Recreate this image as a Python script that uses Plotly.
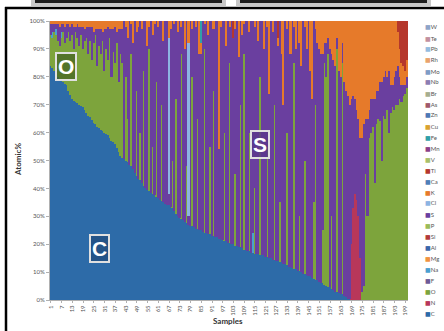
import plotly.graph_objects as go

# ---------------- figure geometry (pixels) ----------------
W_FIG, H_FIG = 444, 331
L, R, T, B = 50, 36, 21, 31
PW = W_FIG - L - R
PH = H_FIG - T - B


def fx(p):
    return (p - L) / PW


def fy(p):
    return (H_FIG - B - p) / PH


# ---------------- data ----------------
samples = list(range(1, 201))
tick_samples = list(range(1, 200, 6))

C = [84, 83, 82, 81, 80, 79, 78.5, 78, 77.5, 77,
     75, 73.5, 72, 71.5, 71, 70.5, 70, 69.5, 69, 68,
     67, 66, 65.5, 64.5, 63.5, 63, 62, 61.5, 61, 60.5,
     60, 59.5, 59, 58, 57, 56.5, 56, 54.5, 53, 51.5,
     51, 50.5, 50, 49.5, 48.5, 48, 47, 45.5, 44.5, 43.5,
     43, 42, 41, 40, 39.5, 39, 38.5, 38, 37.5, 37,
     36.5, 36, 35.5, 35, 34.5, 34, 34, 33.5, 33, 32,
     31, 30, 29.5, 29, 28.5, 28, 27.5, 27, 26.5, 26.5,
     26, 25.5, 25.5, 25, 25, 24.5, 24, 24, 23.5, 23.5,
     23, 23, 22.5, 22.5, 22, 22, 21.5, 21, 21, 20.5,
     20.5, 20, 20, 19.5, 19.5, 19, 19, 18.5, 18, 18,
     17.5, 17.5, 17, 17, 16.5, 16.5, 16.5, 16, 16, 16,
     15.5, 15.5, 15, 15, 14.5, 14.5, 14, 14, 13.5, 13.5,
     13, 13, 12.5, 12, 12, 11.5, 11, 11, 10.5, 10.5,
     10, 9.5, 9.5, 9, 8.5, 8.5, 8, 7.5, 7, 7,
     6.5, 6, 6, 5.5, 5, 4.5, 4.5, 4, 3.5, 3,
     3, 2.5, 2, 2, 1.5, 1, 0.5, 0.3, 0, 0,
     0, 0, 0, 0, 0, 0, 0, 0, 0, 0,
     0, 0, 0, 0, 0, 0, 0, 0, 0, 0,
     0, 0, 0, 0, 0, 0, 0, 0, 0, 0]

O = [11, 11, 14, 14, 13, 12, 15.5, 18, 14.5, 17,
     21, 19.5, 23, 18.5, 25, 23.5, 21, 25.5, 21, 25,
     27, 22, 27.5, 21.5, 28.5, 32, 22, 29.5, 27, 32.5,
     22, 30.5, 27, 36, 23, 32.5, 29, 37.5, 25, 36.5,
     34, 0, 30, 15.5, 0, 40, 0, 0, 30.5, 0,
     17, 0, 41, 0, 0, 51, 0, 17, 0, 41,
     0, 0, 34.5, 0, 0, 0, 0, 0, 17, 0,
     41, 0, 0, 59, 0, 0, 20.5, 0, 0, 53.5,
     0, 0, 39.5, 0, 0, 0, 66, 0, 0, 31.5,
     0, 52, 0, 0, 0, 0, 0, 39, 0, 0,
     64.5, 0, 0, 25.5, 0, 0, 51, 0, 70, 0,
     0, 42.5, 0, 0, 23.5, 0, 0, 64, 0, 0,
     0, 39.5, 0, 0, 0, 55.5, 0, 0, 21.5, 0,
     0, 0, 47.5, 0, 0, 0, 74, 0, 0, 19.5,
     0, 0, 40.5, 0, 0, 0, 0, 27.5, 63, 0,
     0, 0, 19, 79.5, 75, 83.5, 0, 26, 0, 0,
     87, 0, 0, 83, 0, 0, 0, 0, 0, 0,
     0, 0, 0, 0, 3, 5, 45, 30, 58, 60,
     62, 42, 63, 65, 64, 50, 66, 65, 68, 60,
     67, 69, 68, 70, 70, 72, 71, 73, 74, 76]

S = [4, 3, 3, 2, 6, 7, 3, 3, 6, 5,
     3, 5, 4, 8, 2, 5, 7, 3, 8, 4,
     4, 10, 5, 12, 4, 2, 13, 6, 9, 3,
     15, 7, 12, 3, 17, 8, 13, 4, 19, 9,
     12, 49.5, 18, 29, 51.5, 11, 45, 54.5, 21, 54.5,
     40, 55, 18, 60, 51.5, 8, 61.5, 40, 61.5, 22,
     61.5, 64, 30, 58, 65.5, 66, 4, 63.5, 50, 67,
     28, 66, 70.5, 10, 71.5, 62, 52, 3, 73.5, 17,
     74, 72.5, 35, 63, 63, 75.5, 9, 76, 71.5, 45,
     77, 22, 77.5, 77.5, 32, 76, 78.5, 40, 70, 79.5,
     13, 80, 74, 52, 80.5, 68, 30, 76.5, 11, 82,
     82.5, 36, 83, 76, 58, 83.5, 76.5, 20, 84, 74,
     84.5, 43, 59, 85, 81.5, 30, 86, 77, 65, 74.5,
     57, 87, 37, 88, 76, 88.5, 13, 79, 89.5, 62,
     74, 90.5, 48, 81, 91.5, 73.5, 64, 65, 27, 85,
     83.5, 82, 63, 7, 12, 6, 85.5, 58, 82.5, 81,
     4, 79.5, 78, 7, 76.5, 74, 72.5, 69.7, 52, 40,
     34, 32, 35, 43, 55, 58, 20, 35, 10, 12,
     10, 30, 12, 10, 14, 28, 14, 17, 12, 22,
     10, 8, 12, 12, 14, 8, 6, 4, 3, 4]

K = [1, 1, 1, 1, 1, 2, 1, 1, 2, 1,
     1, 2, 1, 2, 2, 1, 2, 2, 2, 3,
     2, 2, 2, 2, 4, 3, 3, 3, 3, 4,
     3, 3, 2, 3, 3, 3, 2, 4, 3, 3,
     3, 0, 2, 6, 0, 1, 8, 0, 4, 2,
     0, 3, 0, 0, 9, 2, 0, 5, 1, 0,
     2, 0, 0, 7, 0, 0, 6, 3, 0, 1,
     0, 4, 0, 2, 0, 10, 0, 8, 0, 3,
     0, 2, 0, 12, 4, 0, 1, 0, 5, 0,
     0, 3, 0, 0, 46, 2, 0, 0, 9, 0,
     2, 0, 0, 3, 0, 13, 0, 5, 1, 0,
     0, 4, 0, 0, 2, 0, 7, 0, 0, 10,
     0, 2, 26, 0, 4, 0, 0, 3, 0, 12,
     30, 0, 3, 0, 12, 0, 2, 10, 0, 8,
     16, 0, 2, 10, 0, 18, 28, 0, 3, 8,
     10, 12, 12, 8, 8, 6, 10, 12, 14, 16,
     6, 18, 20, 8, 22, 25, 27, 30, 28, 27,
     28, 32, 35, 42, 42, 37, 35, 35, 32, 28,
     28, 28, 25, 25, 22, 22, 20, 18, 20, 18,
     23, 23, 20, 18, 12, 10, 8, 7, 5, 6]

# minor elements present only in a few samples (sample -> atomic %)
N_pts = {169: 20, 170: 33, 171: 38, 172: 36, 173: 30, 174: 15}
Na_pts = {2: 2, 4: 2, 7: 2, 114: 7}
Cl_pts = {67: 56, 78: 62}
Ti_pts = {103: 6, 128: 6, 195: 4, 196: 10, 197: 15, 198: 16, 199: 18, 200: 14}
Fe_pts = {85: 8}

legend_elements = ["W", "Te", "Pb", "Rh", "Mo", "Nb", "Br", "As", "Zn", "Cu",
                   "Fe", "Mn", "V", "Ti", "Ca", "K", "Cl", "S", "P", "Si",
                   "Al", "Mg", "Na", "F", "O", "N", "C"]

colors = {
    "W": "#8EA4C8", "Te": "#C2909E", "Pb": "#93BCE0", "Rh": "#E9A36C",
    "Mo": "#7E9CC6", "Nb": "#8C7DB2", "Br": "#A7AE8E", "As": "#A0596A",
    "Zn": "#4E78B4", "Cu": "#D9A230", "Fe": "#2FA0A8", "Mn": "#8C3F88",
    "V": "#A9C06A", "Ti": "#B5372C", "Ca": "#4F7FB8", "K": "#E67A2A",
    "Cl": "#8DB4E2", "S": "#6A3F9F", "P": "#9BBB59", "Si": "#B33A3A",
    "Al": "#3A66AA", "Mg": "#F0923F", "Na": "#4A9FD0", "F": "#6E5A96",
    "O": "#7DA43C", "N": "#B8375A", "C": "#2D6BA8",
}


def expand(pts):
    return [pts.get(s, 0) for s in samples]


stack = [("C", C), ("N", expand(N_pts)), ("O", O), ("Na", expand(Na_pts)),
         ("S", S), ("Cl", expand(Cl_pts)), ("K", K), ("Ti", expand(Ti_pts)),
         ("Fe", expand(Fe_pts))]

fig = go.Figure()
for name, vals in stack:
    fig.add_trace(go.Bar(
        x=samples, y=vals, name=name, showlegend=False,
        marker=dict(color=colors[name], line=dict(width=0)),
    ))

FONT = "Lato, 'Open Sans', 'DejaVu Sans', sans-serif"

fig.update_layout(
    width=W_FIG, height=H_FIG,
    margin=dict(l=L, r=R, t=T, b=B, pad=0),
    paper_bgcolor="white", plot_bgcolor="white",
    barmode="stack", barnorm="percent", bargap=0.1,
    font=dict(family=FONT, size=6, color="#555555"),
    xaxis=dict(
        range=[0.5, 200.5], tickmode="array", tickvals=tick_samples,
        ticktext=[str(v) for v in tick_samples], tickangle=-90,
        tickfont=dict(size=6, color="#555555"), showgrid=False,
        showline=True, linecolor="#b0b0b0", linewidth=1,
        ticks="outside", ticklen=2, tickcolor="#b0b0b0", zeroline=False,
        automargin=False,
    ),
    yaxis=dict(
        range=[0, 100], dtick=10, ticksuffix="%",
        tickfont=dict(size=6, color="#555555"), showgrid=False,
        showline=True, linecolor="#b0b0b0", linewidth=1,
        ticks="outside", ticklen=3, tickcolor="#b0b0b0", zeroline=False,
        automargin=False,
    ),
)

annotations = []
# axis titles
annotations.append(dict(text="<b>Samples</b>", x=fx(228), y=fy(321), xref="paper", yref="paper",
                        showarrow=False, font=dict(size=8, color="#333333", family=FONT),
                        xanchor="center", yanchor="middle"))
annotations.append(dict(text="<b>Atomic%</b>", x=fx(18), y=fy(160), xref="paper", yref="paper",
                        showarrow=False, textangle=-90, font=dict(size=8, color="#333333", family=FONT),
                        xanchor="center", yanchor="middle"))

# legend built from annotations
for i, el in enumerate(legend_elements):
    ypx = 27 + i * 11.0
    annotations.append(dict(
        text=f'<span style="color:{colors[el]}">■</span>{el}',
        x=fx(423), y=fy(ypx), xref="paper", yref="paper", showarrow=False,
        xanchor="left", yanchor="middle", font=dict(size=6, color="#555555", family=FONT),
    ))

# big letter callouts
for letter, cx, cy, bg in [("O", 66, 66, "rgba(70,100,35,0.75)"),
                           ("S", 260, 144, "rgba(90,55,140,0.85)"),
                           ("C", 99, 248, "rgba(35,80,130,0.85)")]:
    annotations.append(dict(
        text=f"<b>{letter}</b>", x=fx(cx), y=fy(cy), xref="paper", yref="paper",
        showarrow=False, xanchor="center", yanchor="middle",
        font=dict(size=21, color="white", family="Liberation Sans, Arial, sans-serif"),
        bgcolor=bg, bordercolor="#e0e0e0", borderwidth=2, borderpad=1,
    ))
fig.update_layout(annotations=annotations)

# frame and top decorative bars
shapes = [
    dict(type="rect", xref="paper", yref="paper", x0=fx(31), x1=fx(226), y0=fy(6), y1=fy(-2),
         fillcolor="#c8c8c8", line=dict(width=0), layer="above"),
    dict(type="rect", xref="paper", yref="paper", x0=fx(236), x1=fx(431), y0=fy(6), y1=fy(-2),
         fillcolor="#c8c8c8", line=dict(width=0), layer="above"),
    dict(type="rect", xref="paper", yref="paper", x0=fx(35), x1=fx(222), y0=fy(3), y1=fy(-2),
         fillcolor="#1e1e1e", line=dict(width=0), layer="above"),
    dict(type="rect", xref="paper", yref="paper", x0=fx(240), x1=fx(427), y0=fy(3), y1=fy(-2),
         fillcolor="#1e1e1e", line=dict(width=0), layer="above"),
    dict(type="line", xref="paper", yref="paper", x0=fx(5), x1=fx(446), y0=fy(8), y1=fy(8),
         line=dict(color="black", width=2.5), layer="above"),
    dict(type="line", xref="paper", yref="paper", x0=fx(6), x1=fx(6), y0=fy(7), y1=fy(335),
         line=dict(color="black", width=2.5), layer="above"),
]
fig.update_layout(shapes=shapes)

fig.write_html("out.html", config={"displayModeBar": False},
               post_script="document.body.style.margin='0';document.body.style.overflow='hidden';")
